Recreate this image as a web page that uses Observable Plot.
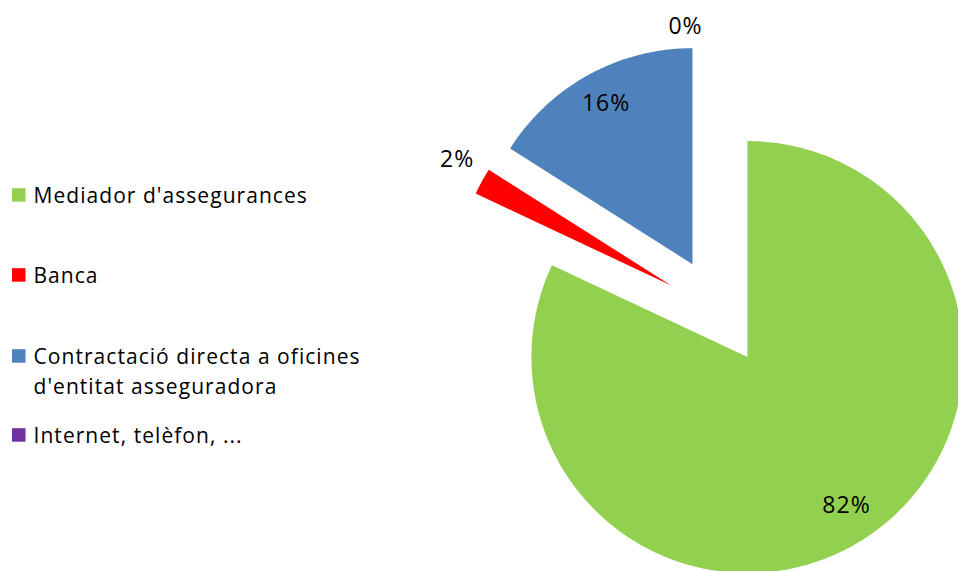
<!DOCTYPE html>
<html>
<head>
<meta charset="utf-8">
<script src="https://cdn.jsdelivr.net/npm/d3@7"></script>
<script src="https://cdn.jsdelivr.net/npm/@observablehq/plot@0.6"></script>
<style>
  html, body { margin: 0; padding: 0; background: #fff; }
  #chart { width: 958px; height: 571px; overflow: hidden; }
  #chart svg text { letter-spacing: 1.05px; }
</style>
</head>
<body>
<div id="chart"></div>
<script>
// ---- Data ----
const categories = [
  "Mediador d'assegurances",
  "Banca",
  "Contractació directa a oficines\nd'entitat asseguradora",
  "Internet, telèfon, ..."
];
const values = [82, 2, 16, 0];
const percentLabels = ["82%", "2%", "16%", "0%"];
const colors = ["#92D050", "#FF0000", "#4F81BD", "#7030A0"];

// ---- Layout ----
const W = 958, H = 571;
const cx = 718, cy = 311, R = 216, explode = 54;
const labelNudge = [[3, -3], [-2, -9], [0, -3], [-33, 11]];
const legendBaselines = [201.7, 281.7, 362.7, 441.7];
const legendFont = 21, labelFont = 23;

const arcs = d3.pie().sort(null).value(d => d)(values);
const dir = a => [Math.sin(a), -Math.cos(a)];

const piePoints = [];
const labelData = [];
arcs.forEach((arc, i) => {
  const mid = (arc.startAngle + arc.endAngle) / 2;
  const [ex, ey] = dir(mid);
  const ax = cx + explode * ex, ay = cy + explode * ey;
  if (arc.endAngle - arc.startAngle > 0) {
    piePoints.push({cat: categories[i], x: ax, y: ay});
    const n = Math.max(4, Math.ceil((arc.endAngle - arc.startAngle) * 80));
    for (let k = 0; k <= n; k++) {
      const a = arc.startAngle + (arc.endAngle - arc.startAngle) * k / n;
      const [dx, dy] = dir(a);
      piePoints.push({cat: categories[i], x: ax + R * dx, y: ay + R * dy});
    }
    piePoints.push({cat: categories[i], x: ax, y: ay});
  }
  const f = values[i] >= 5 ? 0.83 : 1.12;
  labelData.push({
    text: percentLabels[i],
    x: ax + f * R * ex + labelNudge[i][0],
    y: ay + f * R * ey + labelNudge[i][1]
  });
});

const legendData = categories.map((c, i) => ({
  cat: c,
  x: 33,
  y: legendBaselines[i] - 0.71 * legendFont - 6,
  sx: 12, sy: legendBaselines[i] - 13.5
}));

const chart = Plot.plot({
  width: W,
  height: H,
  margin: 0,
  style: {fontFamily: "'Open Sans', sans-serif", background: "#fff"},
  x: {domain: [0, W], range: [0, W], axis: null},
  y: {domain: [0, H], range: [0, H], axis: null},
  color: {domain: categories, range: colors},
  marks: [
    Plot.line(piePoints, {x: "x", y: "y", z: "cat", fill: "cat", stroke: null, curve: "linear"}),
    Plot.text(labelData, {x: "x", y: "y", text: "text", fontSize: labelFont, fill: "#000", textAnchor: "middle", lineAnchor: "middle"}),
    Plot.rect(legendData, {x1: "sx", x2: d => d.sx + 13.5, y1: "sy", y2: d => d.sy + 13.5, fill: "cat"}),
    Plot.text(legendData, {x: "x", y: "y", text: "cat", fontSize: legendFont, fill: "#000", textAnchor: "start", lineAnchor: "top", lineHeight: 30 / legendFont})
  ]
});
document.getElementById("chart").appendChild(chart);
</script>
</body>
</html>
